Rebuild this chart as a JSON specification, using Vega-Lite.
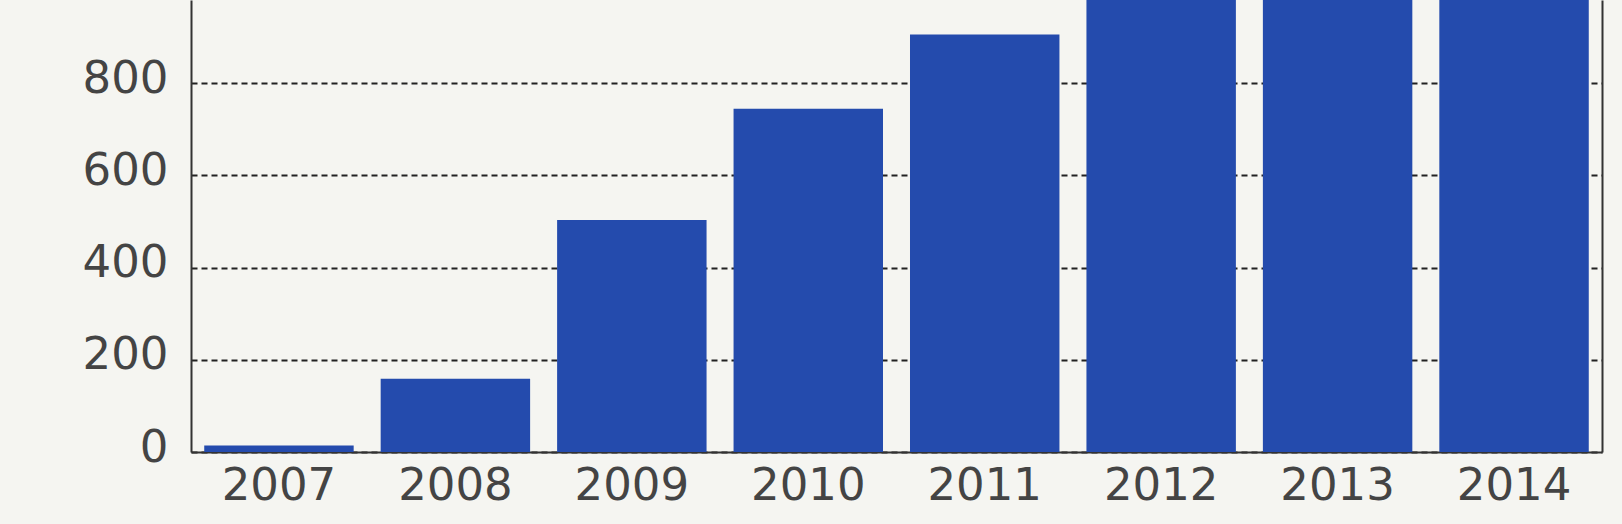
{
  "$schema": "https://vega.github.io/schema/vega-lite/v6.json",
  "width": 1411,
  "height": 452,
  "autosize": {"type": "none"},
  "padding": {"left": 191, "top": 0, "right": 20, "bottom": 72},
  "background": "#f5f5f1",
  "config": {
    "view": {"stroke": null},
    "axis": {"labelFont": "DejaVu Sans", "labelFontSize": 45, "labelColor": "#444444", "ticks": false, "domainColor": "#333333", "domainWidth": 2, "title": null}
  },
  "data": {"values": [
    {"year": "2007", "value": 14},
    {"year": "2008", "value": 159},
    {"year": "2009", "value": 503},
    {"year": "2010", "value": 744},
    {"year": "2011", "value": 905},
    {"year": "2012", "value": 1100},
    {"year": "2013", "value": 1200},
    {"year": "2014", "value": 1300}
  ]},
  "layer": [
    {
      "mark": {"type": "bar", "color": "#244bad", "clip": true},
      "encoding": {
        "x": {"field": "year", "type": "ordinal", "scale": {"paddingInner": 0.153, "paddingOuter": 0.075},
              "axis": {"labelAngle": 0, "labelPadding": 11, "labelBaseline": "top", "grid": false}},
        "y": {"field": "value", "type": "quantitative", "scale": {"domain": [0, 980], "nice": false},
              "axis": {"values": [0, 200, 400, 600, 800], "labelPadding": 23, "labelOffset": -5, "grid": true, "gridColor": "#222222", "gridDash": [6, 4], "gridWidth": 1.8}}
      }
    },
    {
      "mark": {"type": "bar", "opacity": 0, "clip": true},
      "encoding": {
        "x": {"field": "year", "type": "ordinal"},
        "y": {"field": "value", "type": "quantitative", "axis": {"orient": "right", "labels": false, "grid": false, "ticks": false}}
      }
    }
  ],
  "resolve": {"axis": {"y": "independent"}}
}
